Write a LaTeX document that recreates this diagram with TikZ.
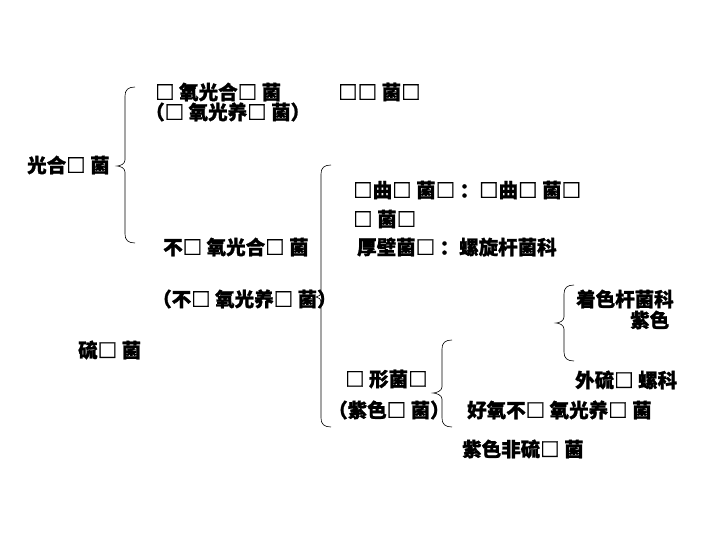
\documentclass[tikz,border=0pt]{standalone}
\usepackage{fontspec}
\setmainfont{Noto Sans CJK SC}[BoldFeatures={FakeBold=1.2}]
\begin{document}
\begin{tikzpicture}[x=1pt,y=-1pt,
  lbl/.style={anchor=west,inner sep=0pt,font=\fontsize{19.5}{22}\selectfont\bfseries},
  brc/.style={draw=black,line width=0.6pt}]
\useasboundingbox (0,0) rectangle (720,540);
% labels
\node[lbl] (t1) at (155,92) {□ 氧光合□ 菌};
\node[lbl] (t2) at (145,112) {（□ 氧光养□ 菌）};
\node[lbl] (t3) at (338,92) {□□ 菌□};
\node[lbl] (t4) at (27,165) {光合□ 菌};
\node[lbl] (t5) at (163,247) {不□ 氧光合□ 菌};
\node[lbl] (t6) at (353,190) {□曲□ 菌□ ：□曲□ 菌□};
\node[lbl] (t7) at (353,219) {□ 菌□};
\node[lbl] (t8) at (357,247) {厚壁菌□ ：螺旋杆菌科};
\node[lbl] (t9) at (152,299) {（不□ 氧光养□ 菌）};
\node[lbl] (t10) at (576,299) {着色杆菌科};
\node[lbl] (t11) at (630,320) {紫色};
\node[lbl] (t12) at (78,350) {硫□ 菌};
\node[lbl] (t13) at (575,380) {外硫□ 螺科};
\node[lbl] (t14) at (345,379) {□ 形菌□};
\node[lbl] (t15) at (328,410) {（紫色□ 菌）};
\node[lbl] (t16) at (467,410) {好氧不□ 氧光养□ 菌};
\node[lbl] (t17) at (462,449) {紫色非硫□ 菌};
% braces
\newcommand{\mybrace}[5]{% x, top, tip y, bottom, tip x
  \draw[brc] (#1+10,#2) .. controls (#1+3,#2) and (#1,#2+3) .. (#1,#2+9)
    -- (#1,#3-6) .. controls (#1,#3-2) and (#5+3,#3) .. (#5,#3)
    .. controls (#5+3,#3) and (#1,#3+2) .. (#1,#3+6)
    -- (#1,#4-9) .. controls (#1,#4-3) and (#1+3,#4) .. (#1+10,#4);}
\mybrace{125}{87}{166}{243}{117}
\mybrace{321}{165}{297}{427}{316}
\mybrace{442}{340}{393}{427}{433}
\mybrace{564}{285}{323}{361}{556}
\end{tikzpicture}
\end{document}
